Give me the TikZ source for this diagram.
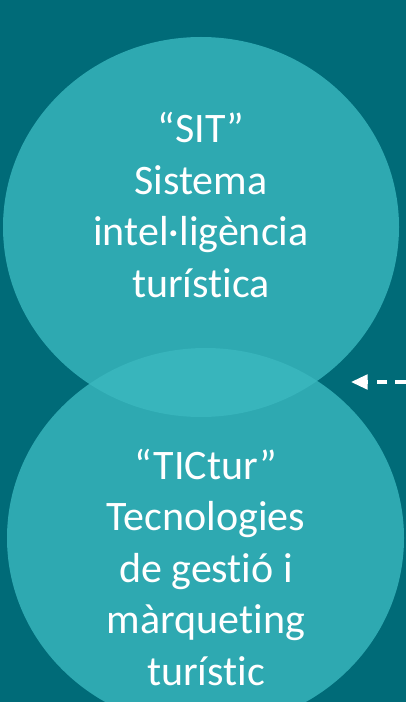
\documentclass[tikz,border=0pt]{standalone}
\usepackage{fontspec}
\setmainfont{Carlito}[Ligatures=NoCommon, RawFeature={-liga;-dlig;-calt}]
\usetikzlibrary{arrows.meta}
\definecolor{bgteal}{HTML}{006B78}
\definecolor{circteal}{HTML}{2EA9B1}
\definecolor{overteal}{HTML}{38B5BC}
\tikzset{
  bubble/.style={fill=circteal, draw=none},
  bubbletext/.style={text=white, align=center, font=\fontsize{31.5}{38.6}\selectfont, inner sep=0pt},
  feedarrow/.style={draw=white, line width=2.4pt, dash pattern=on 7.9pt off 6.3pt,
     -{Triangle[length=12.5pt,width=11pt,sep=0pt]}}
}
\begin{document}
\begin{tikzpicture}[x=0.75pt,y=-0.75pt]
\useasboundingbox (0,0) rectangle (406,702);
\fill[bgteal] (0,0) rectangle (406,702);
\begin{scope}
\clip (0,0) rectangle (406,702);
\path[bubble] (201,227) ellipse [x radius=198, y radius=190];
\path[bubble] (205.5,538) ellipse [x radius=198.5, y radius=190];
\begin{scope}
\clip (201,227) ellipse [x radius=198, y radius=190];
\fill[overteal] (205.5,538) ellipse [x radius=198.5, y radius=190];
\end{scope}
\end{scope}
\node[bubbletext, anchor=base] (sit) at (201,297) {“SIT”\\Sistema\\intel·ligència\\turística};
\node[bubbletext, anchor=base] (tictur) at (206,685) {“TICtur”\\Tecnologies\\de gestió i\\màrqueting\\turístic};
\coordinate (src) at (406,382);
\coordinate (tip) at (351,382);
\draw[feedarrow] (src) -- (tip);
\end{tikzpicture}
\end{document}
